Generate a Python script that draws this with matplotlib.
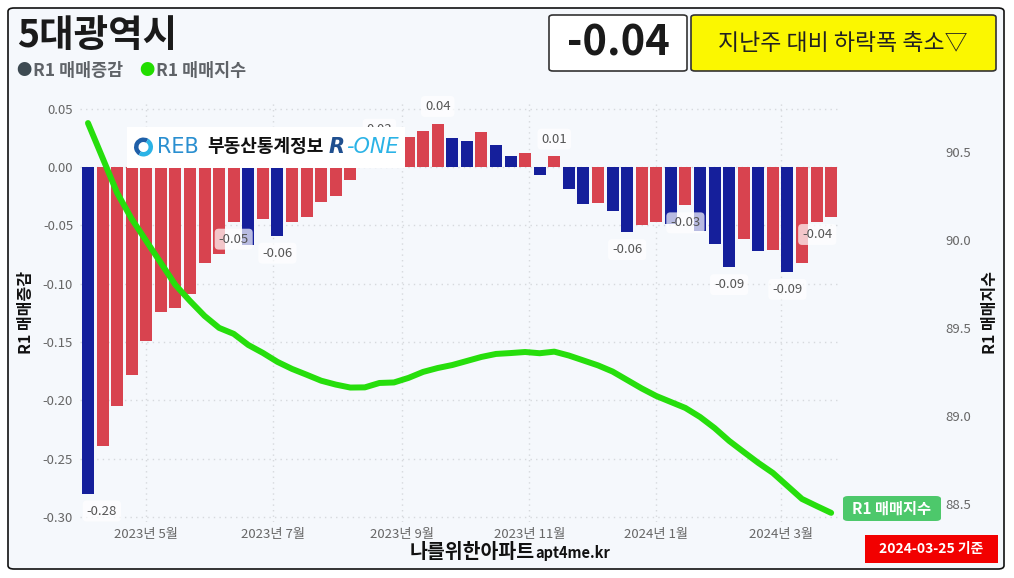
import numpy as np
import pandas as pd
import matplotlib.pyplot as plt
from matplotlib.patches import FancyBboxPatch, Rectangle, Wedge
from matplotlib.transforms import IdentityTransform

plt.rcParams['font.family'] = ['Noto Sans CJK KR', 'DejaVu Sans']

W, H = 1014, 578

weeks = pd.date_range('2023-04-03', periods=52, freq='7D')

# R1 매매증감 (weekly change)
chg = [-0.280, -0.239, -0.205, -0.178, -0.149, -0.124, -0.121, -0.109, -0.082, -0.075,
       -0.047, -0.067, -0.045, -0.059, -0.047, -0.043, -0.030, -0.025, -0.011, 0.010,
       0.030, 0.020, 0.026, 0.031, 0.037, 0.025, 0.022, 0.030, 0.019, 0.009,
       0.012, -0.007, 0.009, -0.019, -0.032, -0.031, -0.038, -0.056, -0.050, -0.047,
       -0.049, -0.033, -0.055, -0.066, -0.086, -0.062, -0.072, -0.071, -0.090, -0.082,
       -0.047, -0.043]

# R1 매매지수 (index)
idx = [90.666, 90.468, 90.269, 90.121, 89.996, 89.871, 89.746, 89.655, 89.570, 89.502,
       89.468, 89.405, 89.360, 89.309, 89.269, 89.236, 89.202, 89.180, 89.163, 89.164,
       89.189, 89.192, 89.218, 89.252, 89.274, 89.291, 89.314, 89.337, 89.354, 89.359,
       89.365, 89.358, 89.367, 89.345, 89.317, 89.289, 89.254, 89.206, 89.158, 89.115,
       89.081, 89.047, 88.996, 88.933, 88.860, 88.797, 88.735, 88.678, 88.604, 88.530,
       88.490, 88.451]

# bars that carry a value label
label_bars = [0, 10, 13, 20, 24, 32, 37, 41, 44, 48, 51]

month_ticks = pd.to_datetime(['2023-05-01', '2023-07-01', '2023-09-01',
                              '2023-11-01', '2024-01-01', '2024-03-01'])
month_labels = ['2023년 5월', '2023년 7월', '2023년 9월',
                '2023년 11월', '2024년 1월', '2024년 3월']

left_ticks = [0.05, 0.00, -0.05, -0.10, -0.15, -0.20, -0.25, -0.30]
right_ticks = [88.5, 89.0, 89.5, 90.0, 90.5]

RED = '#d8434f'
BLUE = '#151f9b'
GREEN = '#26de0c'
BG = '#f5f8fc'
KR = 'Noto Sans CJK KR'


def fx(px):
    return px / W


def fy(py):
    return 1 - py / H


fig = plt.figure(figsize=(W / 100, H / 100), dpi=100)
fig.patch.set_facecolor('white')

# outer rounded frame
frame = FancyBboxPatch((fx(8), fy(569)), fx(1004) - fx(8), fy(8) - fy(569),
                       boxstyle='round,pad=0,rounding_size=0.006',
                       transform=fig.transFigure, fc=BG, ec='#111111', lw=1.2, zorder=-5)
fig.add_artist(frame)

ax = fig.add_axes([fx(80), fy(522), fx(838) - fx(80), fy(100) - fy(522)])
ax.set_facecolor('none')

# bar colours: blue when lower than the previous week
colors = [BLUE] + [BLUE if chg[i] < chg[i - 1] else RED for i in range(1, len(chg))]
ax.bar(weeks, chg, width=5.8, color=colors, zorder=2)

ax.set_ylim(-0.3043, 0.0574)
ax.set_xlim(weeks[0] - pd.Timedelta(days=3.84), weeks[0] + pd.Timedelta(days=360.3))
ax.set_yticks(left_ticks)
ax.set_yticklabels([f'{v:.2f}' for v in left_ticks])
ax.set_xticks(month_ticks)
ax.set_xticklabels(month_labels)
ax.tick_params(axis='y', length=0, pad=5, labelsize=9.5, labelcolor='#666666')
ax.tick_params(axis='x', length=0, pad=4, labelsize=9.5, labelcolor='#666666')
ax.grid(True, color='#d6d9dd', linestyle=(0, (1, 3)), linewidth=1)
ax.set_axisbelow(True)
for s in ax.spines.values():
    s.set_visible(False)

for i in label_bars:
    v = chg[i]
    dy = 12.5 if v > 0 else -12.5
    dx = 0
    if i == 0:
        dx = 10
    elif i == len(chg) - 1:
        dx = -10
    elif i == 20:
        dy = 2  # sits mostly behind the logo
    ax.annotate(f'{v:.2f}', (weeks[i], v), xytext=(dx, dy), textcoords='offset points',
                ha='center', va='center', fontsize=9.5, color='#555555', zorder=4,
                bbox=dict(boxstyle='round,pad=0.3', fc='white', ec='none', alpha=0.7))

ax2 = ax.twinx()
ax2.set_facecolor('none')
ax2.plot(weeks, idx, color=GREEN, lw=4.3, solid_capstyle='round', solid_joinstyle='round')
ax2.set_ylim(88.399, 90.797)
ax2.set_yticks(right_ticks)
ax2.set_yticklabels([f'{v:.1f}' for v in right_ticks])
ax2.tick_params(axis='y', length=0, pad=77, labelsize=9.5, labelcolor='#666666')
for s in ax2.spines.values():
    s.set_visible(False)

# axis titles
fig.text(fx(26), fy(312), 'R1 매매증감', rotation=90, ha='center', va='center',
         fontsize=11.5, fontweight='bold', color='#111111', family=KR)
fig.text(fx(990), fy(312), 'R1 매매지수', rotation=90, ha='center', va='center',
         fontsize=11.5, fontweight='bold', color='#111111', family=KR)

# title and legend
fig.text(fx(17), fy(36), '5대광역시', ha='left', va='center', fontsize=27,
         fontweight='bold', color='#1a1a1a')
fig.text(fx(16), fy(71), '●', ha='left', va='center', fontsize=11, color='#3d4a52')
fig.text(fx(33), fy(71), 'R1 매매증감', ha='left', va='center', fontsize=12.5,
         fontweight='bold', color='#5f6368')
fig.text(fx(139), fy(71), '●', ha='left', va='center', fontsize=11, color='#22dd00')
fig.text(fx(156), fy(71), 'R1 매매지수', ha='left', va='center', fontsize=12.5,
         fontweight='bold', color='#5f6368')

# value boxes
box1 = FancyBboxPatch((fx(549), fy(71)), fx(687) - fx(549), fy(15) - fy(71),
                      boxstyle='round,pad=0,rounding_size=0.004', transform=fig.transFigure,
                      fc='white', ec='#333333', lw=1.2)
fig.add_artist(box1)
fig.text(fx(618), fy(44), f'{chg[-1]:.2f}', ha='center', va='center', fontsize=30,
         fontweight='bold', color='#1a1a1a')
box2 = FancyBboxPatch((fx(691), fy(71)), fx(996) - fx(691), fy(15) - fy(71),
                      boxstyle='round,pad=0,rounding_size=0.004', transform=fig.transFigure,
                      fc='#fbf700', ec='#333333', lw=1.2)
fig.add_artist(box2)
fig.text(fx(843), fy(44), '지난주 대비 하락폭 축소▽', ha='center', va='center',
         fontsize=16.5, color='#222222')

# R-ONE logo
fig.add_artist(Rectangle((fx(127), fy(168)), fx(405) - fx(127), fy(127) - fy(168),
                         transform=fig.transFigure, fc='white', ec='none'))
cx, cy = 143.5, H - 147
fig.add_artist(Wedge((cx, cy), 9.5, 60, 240, width=4.5, transform=IdentityTransform(),
                     fc='#1f5fa8', ec='none'))
fig.add_artist(Wedge((cx, cy), 9.5, 240, 420, width=4.5, transform=IdentityTransform(),
                     fc='#2bb3e6', ec='none'))
fig.text(fx(157), fy(147), 'REB', ha='left', va='center', fontsize=15,
         color='#2a8fd0', family='DejaVu Sans')
fig.text(fx(207), fy(147), '부동산통계정보', ha='left', va='center', fontsize=13,
         fontweight='bold', color='#111111')
fig.text(fx(329), fy(147), 'R', ha='left', va='center', fontsize=15, style='italic',
         fontweight='bold', color='#1f4f8f', family='DejaVu Sans')
fig.text(fx(346), fy(147), '-ONE', ha='left', va='center', fontsize=15, style='italic',
         color='#2bb3e6', family='DejaVu Sans')

# end-of-line label
lab = FancyBboxPatch((fx(843), fy(521)), fx(941) - fx(843), fy(496) - fy(521),
                     boxstyle='round,pad=0,rounding_size=0.005', transform=fig.transFigure,
                     fc='#4dc86b', ec='none')
fig.add_artist(lab)
fig.text(fx(892), fy(508.5), 'R1 매매지수', ha='center', va='center', fontsize=11,
         fontweight='bold', color='white')

# footer
fig.text(fx(535), fy(558), '나를위한아파트', ha='right', va='baseline', fontsize=14,
         fontweight='bold', color='#111111')
fig.text(fx(535), fy(558), 'apt4me.kr', ha='left', va='baseline', fontsize=10.5,
         fontweight='bold', color='#111111')
fig.add_artist(Rectangle((fx(865), fy(563)), fx(998) - fx(865), fy(535) - fy(563),
                         transform=fig.transFigure, fc='#f20000', ec='none'))
fig.text(fx(931), fy(549.5), '2024-03-25 기준', ha='center', va='center', fontsize=10,
         fontweight='bold', color='white')

fig.savefig('out.png', dpi=100)
